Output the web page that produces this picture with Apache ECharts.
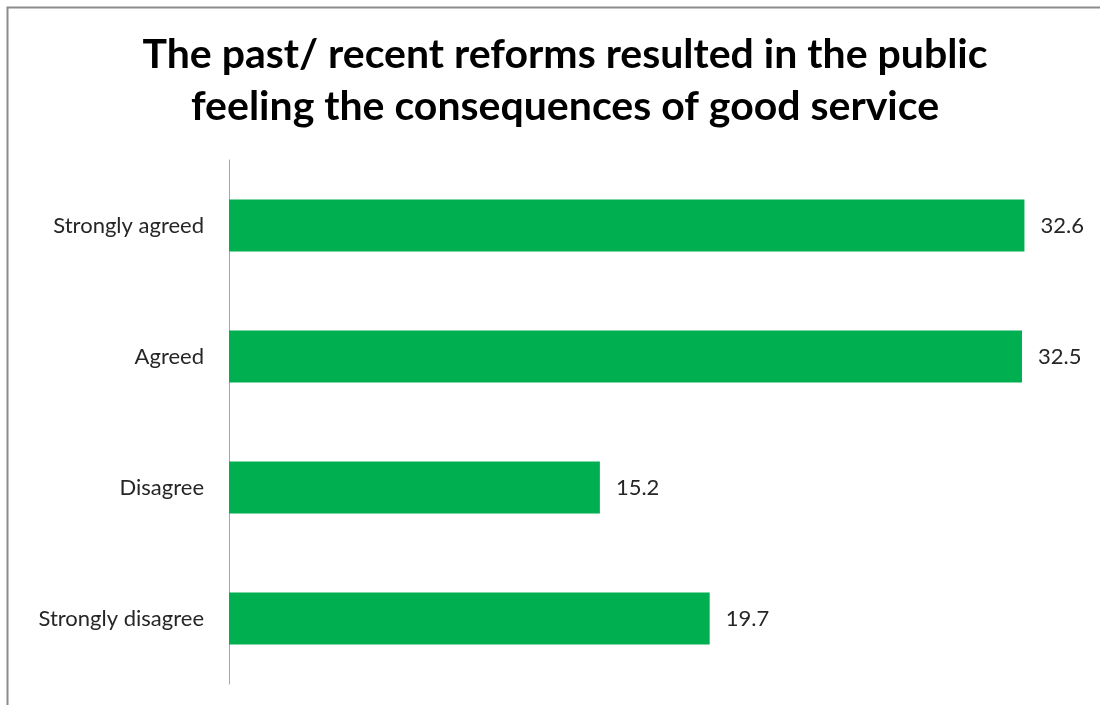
<!DOCTYPE html>
<html>
<head>
<meta charset="utf-8">
<script src="https://cdn.jsdelivr.net/npm/echarts@6/dist/echarts.min.js"></script>
<style>
  html, body { margin: 0; padding: 0; background: #fff; }
  #chart { width: 1100px; height: 705px; }
</style>
</head>
<body>
<div id="chart"></div>
<script>
// Survey responses, top to bottom as shown
const categories = ['Strongly agreed', 'Agreed', 'Disagree', 'Strongly disagree'];
const percentages = [32.6, 32.5, 15.2, 19.7];
const titleLines = ['The past/ recent reforms resulted in the public', 'feeling the consequences of good service'];

const chart = echarts.init(document.getElementById('chart'));
chart.setOption({
  animation: false,
  backgroundColor: '#ffffff',
  graphic: [{
    type: 'rect',
    shape: { x: 7.5, y: 7.5, width: 1120, height: 720 },
    style: { fill: 'none', stroke: '#8c8c8c', lineWidth: 2 },
    silent: true
  }],
  title: {
    text: titleLines.join('\n'),
    left: 560,
    top: 24,
    textAlign: 'center',
    textStyle: {
      fontFamily: 'Lato',
      fontWeight: 'bold',
      fontSize: 41,
      lineHeight: 52,
      color: '#000000'
    }
  },
  grid: { left: 229, top: 160, width: 854, height: 524, containLabel: false },
  xAxis: {
    type: 'value',
    min: 0,
    max: 35,
    show: false
  },
  yAxis: {
    type: 'category',
    data: categories,
    inverse: true,
    axisLine: { show: true, lineStyle: { color: '#a6a6a6', width: 1 } },
    axisTick: { show: false },
    axisLabel: {
      margin: 25,
      fontFamily: 'Lato',
      fontSize: 22,
      color: '#262626'
    }
  },
  series: [{
    type: 'bar',
    data: percentages,
    barWidth: 52,
    itemStyle: { color: '#00b050' },
    label: {
      show: true,
      position: 'right',
      distance: 16,
      fontFamily: 'Lato',
      fontSize: 22,
      color: '#262626',
      formatter: p => p.value.toFixed(1)
    }
  }]
});
</script>
</body>
</html>
